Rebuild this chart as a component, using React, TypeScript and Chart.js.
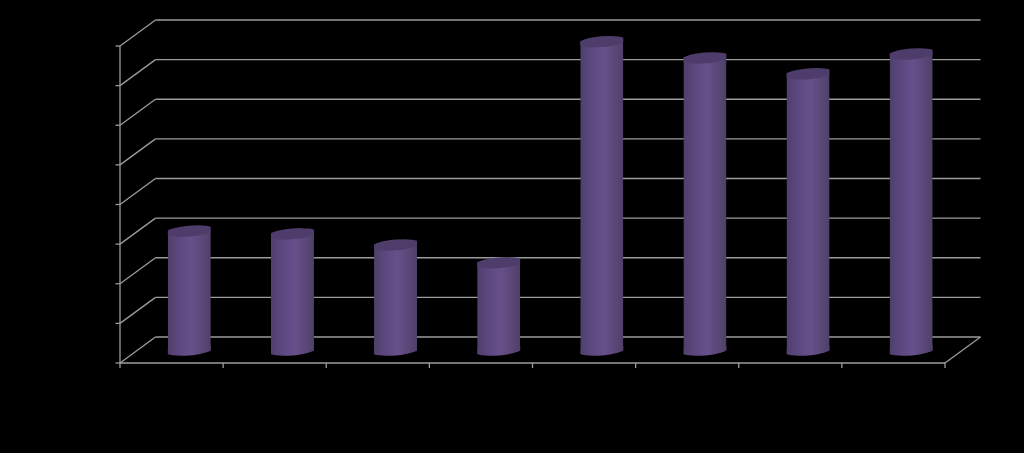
import React, { useEffect, useRef } from "react";
import { Chart, registerables } from "chart.js";

Chart.register(...registerables);

const categories = ["1", "2", "3", "4", "5", "6", "7", "8"];
const seriesValues = [3.0, 2.93, 2.65, 2.2, 7.78, 7.37, 6.97, 7.47];
const yMin = 0;
const yMax = 8;
const yStep = 1;

const DEPTH_X = 35.5;
const DEPTH_Y = -26;
const LINE = "#9c9c9c";

const stage3d = {
  id: "stage3d",
  beforeDraw(chart: any) {
    const { ctx, canvas } = chart;
    ctx.save();
    ctx.fillStyle = "#000";
    ctx.fillRect(0, 0, canvas.width, canvas.height);
    const { y } = chart.scales;
    const a = chart.chartArea;
    ctx.strokeStyle = LINE;
    ctx.lineWidth = 1.3;
    const line = (x0: number, y0: number, x1: number, y1: number) => {
      ctx.beginPath();
      ctx.moveTo(x0, y0);
      ctx.lineTo(x1, y1);
      ctx.stroke();
    };
    y.ticks.forEach((t: any) => {
      const py = y.getPixelForValue(t.value);
      line(a.left + DEPTH_X, py + DEPTH_Y, a.right + DEPTH_X, py + DEPTH_Y);
      line(a.left, py, a.left + DEPTH_X, py + DEPTH_Y);
      line(a.left - 4.5, py, a.left, py);
    });
    line(a.left, a.top, a.left, a.bottom);
    line(a.left, a.bottom, a.right, a.bottom);
    line(a.right, a.bottom, a.right + DEPTH_X, a.bottom + DEPTH_Y);
    const n = categories.length;
    for (let i = 0; i <= n; i++) {
      const px = a.left + ((a.right - a.left) * i) / n;
      line(px, a.bottom, px, a.bottom + 5);
    }
    ctx.restore();
  },
  afterDatasetsDraw(chart: any) {
    const { ctx } = chart;
    const meta = chart.getDatasetMeta(0);
    const tilt = (-5 * Math.PI) / 180;
    meta.data.forEach((bar: any) => {
      const cx = bar.x + DEPTH_X / 2;
      const top = bar.y + DEPTH_Y / 2;
      const base = bar.base + DEPTH_Y / 2;
      const rx = bar.width / 2;
      const ry = 5.4;
      const grad = ctx.createLinearGradient(cx - rx, 0, cx + rx, 0);
      grad.addColorStop(0, "#4f3f69");
      grad.addColorStop(0.25, "#5b4880");
      grad.addColorStop(0.55, "#67508b");
      grad.addColorStop(0.85, "#584674");
      grad.addColorStop(1, "#4e3f67");
      ctx.save();
      ctx.beginPath();
      ctx.rect(cx - rx, 0, rx * 2, chart.canvas.height);
      ctx.clip();
      ctx.fillStyle = grad;
      ctx.fillRect(cx - rx, top, rx * 2, base - top);
      ctx.beginPath();
      ctx.ellipse(cx, base, rx * 1.12, ry, tilt, 0, Math.PI * 2);
      ctx.fill();
      ctx.fillStyle = "#4e3d6b";
      ctx.beginPath();
      ctx.ellipse(cx, top, rx * 1.12, ry, tilt, 0, Math.PI * 2);
      ctx.fill();
      ctx.restore();
    });
  },
};

export default function App() {
  const ref = useRef<HTMLCanvasElement>(null);
  useEffect(() => {
    document.documentElement.style.background = "#000";
    document.body.style.margin = "0";
    document.body.style.background = "#000";
    const chart = new Chart(ref.current as HTMLCanvasElement, {
      type: "bar",
      data: {
        labels: categories,
        datasets: [
          {
            data: seriesValues,
            backgroundColor: "rgba(0,0,0,0)",
            borderWidth: 0,
            barPercentage: 0.417,
            categoryPercentage: 1,
          },
        ],
      },
      options: {
        responsive: false,
        animation: false,
        layout: { padding: { left: 120, right: 79, top: 46, bottom: 90 } },
        plugins: { legend: { display: false }, tooltip: { enabled: false } },
        scales: {
          x: { display: false, grid: { offset: true } },
          y: { display: false, min: yMin, max: yMax, ticks: { stepSize: yStep } },
        },
      },
      plugins: [stage3d],
    } as any);
    return () => chart.destroy();
  }, []);
  return (
    <div style={{ width: 1024, height: 453, background: "#000" }}>
      <canvas ref={ref} width={1024} height={453} style={{ display: "block" }} />
    </div>
  );
}
